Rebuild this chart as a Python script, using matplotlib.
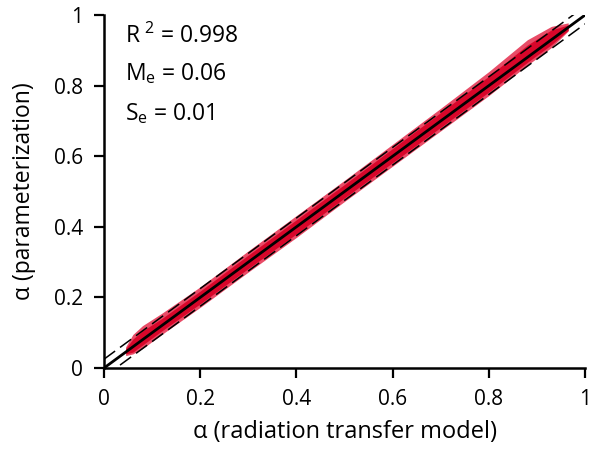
import matplotlib
matplotlib.use("Agg")
import matplotlib.pyplot as plt

plt.rcParams["font.family"] = ["Open Sans", "DejaVu Sans"]
plt.rcParams["mathtext.default"] = "regular"

band_x = [0.045, 0.06, 0.08, 0.12, 0.2, 0.3, 0.4, 0.5, 0.6, 0.7, 0.8, 0.88, 0.93, 0.965]
band_lo = [0.035, 0.04, 0.055, 0.095, 0.172, 0.272, 0.37, 0.472, 0.572, 0.672, 0.772, 0.858, 0.908, 0.955]
band_hi = [0.06, 0.095, 0.12, 0.155, 0.23, 0.332, 0.432, 0.532, 0.634, 0.736, 0.84, 0.93, 0.968, 0.978]
core_lo = [0.04, 0.045, 0.065, 0.105, 0.182, 0.282, 0.38, 0.482, 0.582, 0.682, 0.782, 0.866, 0.916, 0.957]
core_hi = [0.055, 0.082, 0.105, 0.14, 0.218, 0.32, 0.42, 0.52, 0.622, 0.724, 0.827, 0.915, 0.958, 0.972]

one_to_one = [0, 1]
offset = 0.025
stats = [r"R$^{\ 2}$ = 0.998", r"M$_{e}$ = 0.06", r"S$_{e}$ = 0.01"]
stats_y = [0.94, 0.835, 0.72]

fig = plt.figure(figsize=(5.92, 4.49), dpi=100)
ax = fig.add_axes([0.1757, 0.1804, 0.8125, 0.786])

ax.fill_between(band_x, band_lo, band_hi, color="#e42c4c", alpha=0.85, lw=0)
ax.fill_between(band_x, core_lo, core_hi, color="#d8062a", lw=0)

ax.plot(one_to_one, one_to_one, color="black", lw=2.0)
ax.plot([0, 1], [offset, 1 + offset], color="black", lw=1.1, dashes=(9, 4))
ax.plot([0, 1], [-offset, 1 - offset], color="black", lw=1.1, dashes=(9, 4))

for s, y in zip(stats, stats_y):
    ax.text(0.044, y, s, fontsize=16.5, va="center", ha="left")

ax.set_xlim(0, 1)
ax.set_ylim(0, 1)
ticks = [0, 0.2, 0.4, 0.6, 0.8, 1]
labels = ["0", "0.2", "0.4", "0.6", "0.8", "1"]
ax.set_xticks(ticks, labels)
ax.set_yticks(ticks, labels)
ax.tick_params(direction="out", length=7, width=1.6, labelsize=15, pad=8)
for side in ["top", "right"]:
    ax.spines[side].set_visible(False)
for side in ["left", "bottom"]:
    ax.spines[side].set_linewidth(1.8)

ax.set_xlabel("α (radiation transfer model)", fontsize=17, labelpad=7)
ax.set_ylabel("α (parameterization)", fontsize=16.5, labelpad=13)

fig.savefig("out.png", dpi=100)
